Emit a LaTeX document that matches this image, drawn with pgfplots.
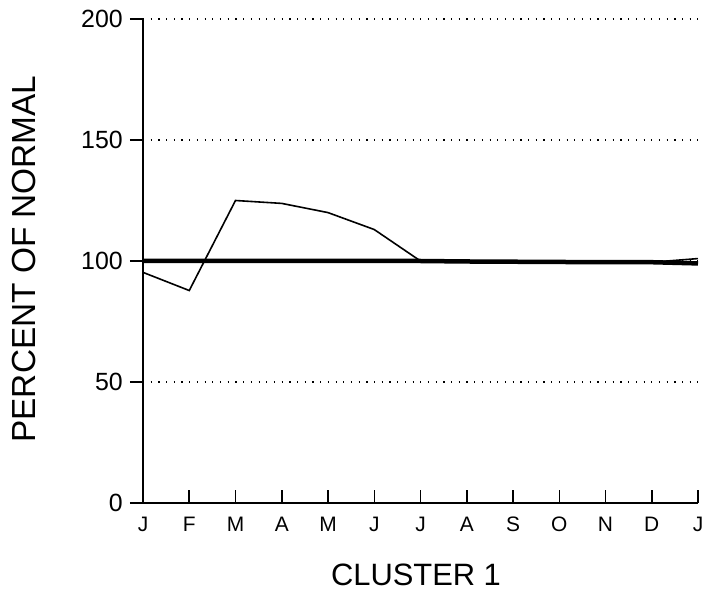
\documentclass[border=0pt]{standalone}
\usepackage{fontspec}
\setmainfont{Liberation Sans}
\usepackage{pgfplots}
\pgfplotsset{compat=1.18}
\begin{document}
\begin{tikzpicture}
\path[use as bounding box] (-143bp,-95bp) rectangle (569bp,503bp);
\begin{axis}[
  at={(0bp,0bp)}, anchor=south west,
  width=555bp, height=484bp, scale only axis,
  xmin=0, xmax=12, ymin=0, ymax=200,
  axis lines*=left,
  axis line style={line width=1.5bp, black},
  xtick={0,...,12},
  xticklabels={J,F,M,A,M,J,J,A,S,O,N,D,J},
  ytick={0,50,100,150,200},
  tick align=inside,
  major tick length=13bp,
  tick style={line width=1.5bp, black},
  y tick style={xshift=-13bp},
  ymajorgrids=true,
  major grid style={black, line width=1.2bp, dash pattern=on 1.2bp off 6.5bp},
  yticklabel style={anchor=east, inner sep=0pt, xshift=-20bp, font=\fontsize{25}{30}\selectfont},
  xticklabel style={anchor=base, inner sep=0pt, yshift=-28bp, font=\fontsize{21}{25}\selectfont},
  /pgf/number format/assume math mode=true,
  clip=false,
]
\addplot[black, line width=4.5bp] coordinates {(0,100)(1,100)(2,100)(3,100)(4,100)(5,100)(6,100)(7,99.8)(8,99.7)(9,99.6)(10,99.5)(11,99.5)(12,99)};
\addplot[black, line width=1.6bp] coordinates {(0,95.3)(1,87.8)(2,125)(3,123.8)(4,120)(5,113)(6,100)(7,99.6)(8,99.5)(9,99.5)(10,99.5)(11,99.5)(12,101)};
\end{axis}
\node[rotate=90, font=\fontsize{33.5}{40}\selectfont] at (-119bp,244bp) {PERCENT OF NORMAL};
\node[font=\fontsize{31}{37}\selectfont] at (273bp,-72bp) {CLUSTER 1};
\end{tikzpicture}
\end{document}
